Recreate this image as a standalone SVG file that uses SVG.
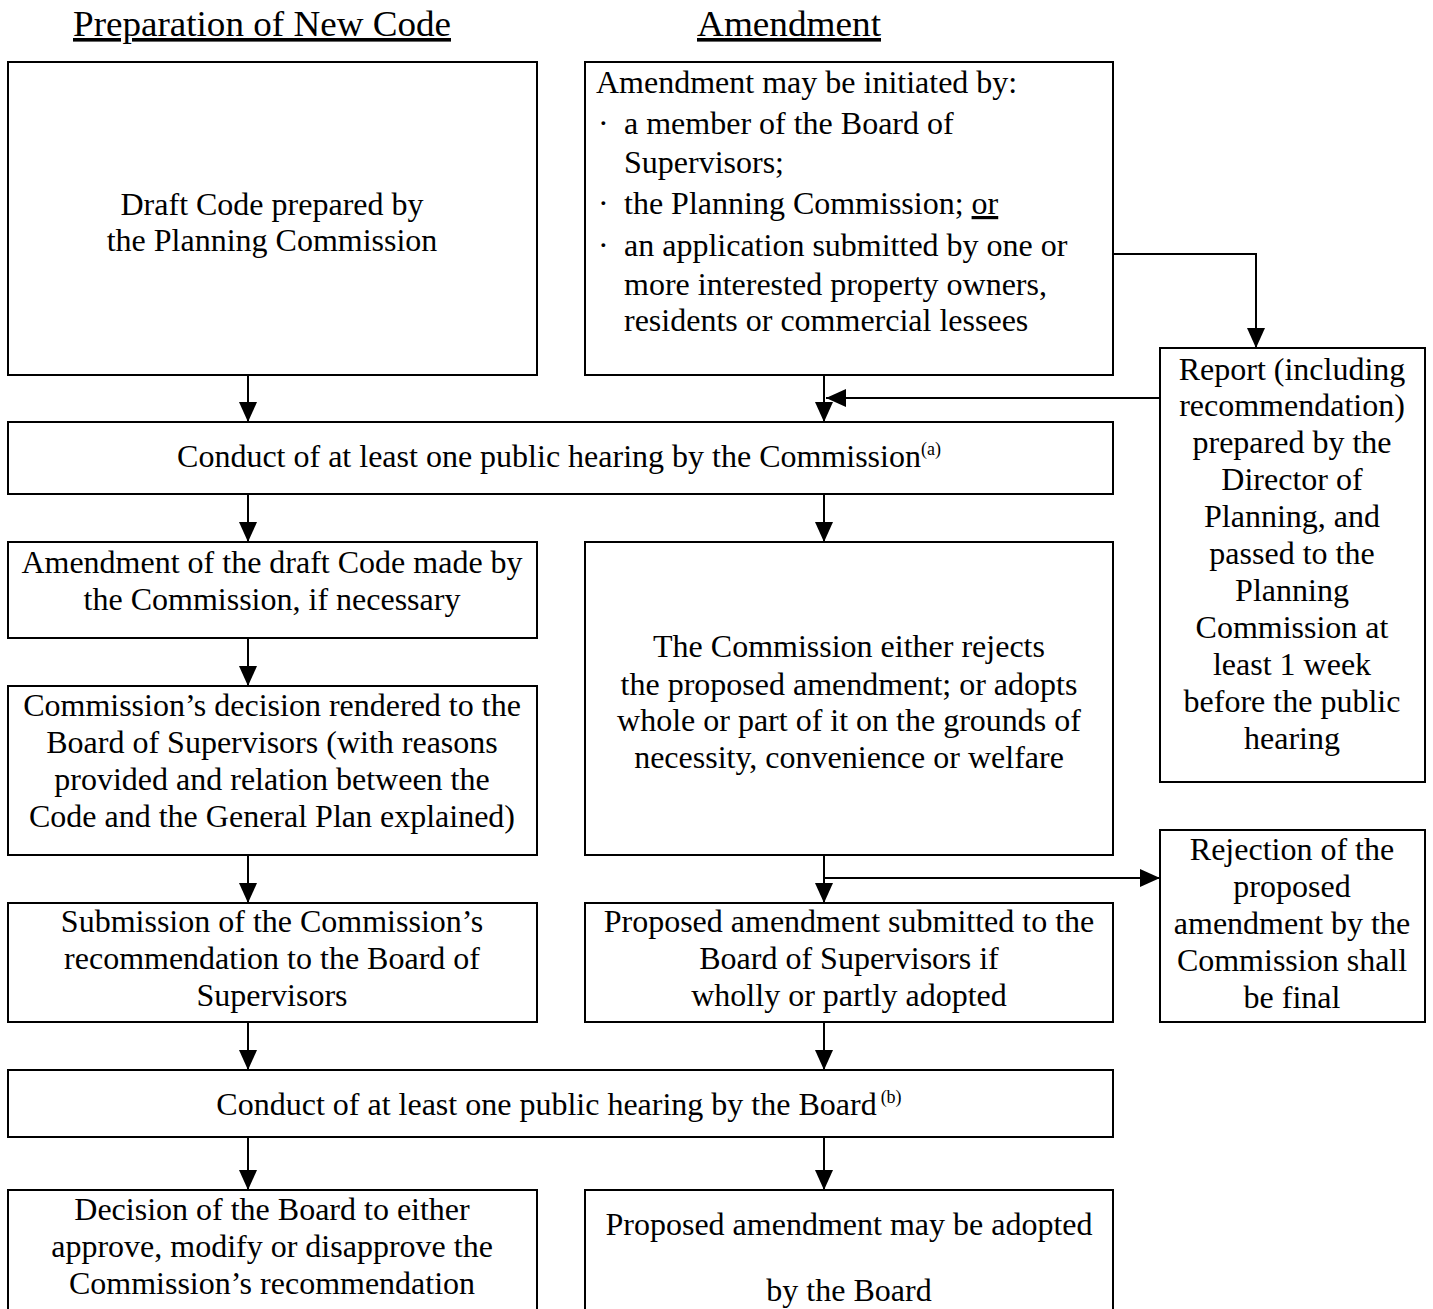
<svg xmlns="http://www.w3.org/2000/svg" width="1433" height="1309" viewBox="0 0 1433 1309">
<style>
.box{fill:#fff;stroke:#000;stroke-width:2}
text{font-family:"Liberation Serif","Times New Roman",serif;font-size:32px;fill:#000}
.c{text-anchor:middle}
.h{font-size:36px;text-decoration:underline}
.sup{font-size:18px}
.ln{fill:none;stroke:#000;stroke-width:2}
</style>
<defs>
<marker id="ah" markerUnits="userSpaceOnUse" markerWidth="20" markerHeight="20" viewBox="0 0 20 20" refX="20" refY="10" orient="auto">
<path d="M0,1 L20,10 L0,19 Z" fill="#000"/>
</marker>
</defs>
<rect width="1433" height="1309" fill="#fff"/>
<g id="headings">
<text class="h" x="73" y="36" textLength="378" lengthAdjust="spacingAndGlyphs">Preparation of New Code</text>
<text class="h" x="697" y="36" textLength="184" lengthAdjust="spacingAndGlyphs">Amendment</text>
</g>
<g id="connectors">
<line class="ln" x1="248" y1="375" x2="248" y2="422" marker-end="url(#ah)"/>
<line class="ln" x1="248" y1="494" x2="248" y2="542" marker-end="url(#ah)"/>
<line class="ln" x1="248" y1="638" x2="248" y2="686" marker-end="url(#ah)"/>
<line class="ln" x1="248" y1="855" x2="248" y2="903" marker-end="url(#ah)"/>
<line class="ln" x1="248" y1="1022" x2="248" y2="1070" marker-end="url(#ah)"/>
<line class="ln" x1="248" y1="1137" x2="248" y2="1190" marker-end="url(#ah)"/>
<line class="ln" x1="824" y1="375" x2="824" y2="422" marker-end="url(#ah)"/>
<line class="ln" x1="824" y1="494" x2="824" y2="542" marker-end="url(#ah)"/>
<line class="ln" x1="824" y1="855" x2="824" y2="903" marker-end="url(#ah)"/>
<line class="ln" x1="824" y1="1022" x2="824" y2="1070" marker-end="url(#ah)"/>
<line class="ln" x1="824" y1="1137" x2="824" y2="1190" marker-end="url(#ah)"/>
<polyline class="ln" points="1113,254 1256,254 1256,348" marker-end="url(#ah)"/>
<line class="ln" x1="1160" y1="398" x2="826" y2="398" marker-end="url(#ah)"/>
<line class="ln" x1="824" y1="878" x2="1160" y2="878" marker-end="url(#ah)"/>
</g>
<g id="draft-code">
<rect class="box" x="8" y="62" width="529" height="313"/>
<text class="c" x="272" y="215">Draft Code prepared by</text>
<text class="c" x="272" y="251">the Planning Commission</text>
</g>
<g id="initiated">
<rect class="box" x="585" y="62" width="528" height="313"/>
<text x="596" y="93">Amendment may be initiated by:</text>
<text x="598" y="134">·</text><text x="624" y="134">a member of the Board of</text>
<text x="624" y="173">Supervisors;</text>
<text x="598" y="214">·</text><text x="624" y="214">the Planning Commission; <tspan text-decoration="underline">or</tspan></text>
<text x="598" y="256">·</text><text x="624" y="256">an application submitted by one or</text>
<text x="624" y="295">more interested property owners,</text>
<text x="624" y="331">residents or commercial lessees</text>
</g>
<g id="report">
<rect class="box" x="1160" y="348" width="265" height="434"/>
<text class="c" x="1292" y="380">Report (including</text>
<text class="c" x="1292" y="416">recommendation)</text>
<text class="c" x="1292" y="453">prepared by the</text>
<text class="c" x="1292" y="490">Director of</text>
<text class="c" x="1292" y="527">Planning, and</text>
<text class="c" x="1292" y="564">passed to the</text>
<text class="c" x="1292" y="601">Planning</text>
<text class="c" x="1292" y="638">Commission at</text>
<text class="c" x="1292" y="675">least 1 week</text>
<text class="c" x="1292" y="712">before the public</text>
<text class="c" x="1292" y="749">hearing</text>
</g>
<g id="commission-hearing">
<rect class="box" x="8" y="422" width="1105" height="72"/>
<text class="c" x="559" y="467">Conduct of at least one public hearing by the Commission<tspan class="sup" dy="-12">(a)</tspan></text>
</g>
<g id="amend-draft">
<rect class="box" x="8" y="542" width="529" height="96"/>
<text class="c" x="272" y="573">Amendment of the draft Code made by</text>
<text class="c" x="272" y="610">the Commission, if necessary</text>
</g>
<g id="commission-decision-amend">
<rect class="box" x="585" y="542" width="528" height="313"/>
<text class="c" x="849" y="657">The Commission either rejects</text>
<text class="c" x="849" y="695">the proposed amendment; or adopts</text>
<text class="c" x="849" y="731">whole or part of it on the grounds of</text>
<text class="c" x="849" y="768">necessity, convenience or welfare</text>
</g>
<g id="commission-decision-code">
<rect class="box" x="8" y="686" width="529" height="169"/>
<text class="c" x="272" y="716">Commission’s decision rendered to the</text>
<text class="c" x="272" y="753">Board of Supervisors (with reasons</text>
<text class="c" x="272" y="790">provided and relation between the</text>
<text class="c" x="272" y="827">Code and the General Plan explained)</text>
</g>
<g id="rejection">
<rect class="box" x="1160" y="830" width="265" height="192"/>
<text class="c" x="1292" y="860">Rejection of the</text>
<text class="c" x="1292" y="897">proposed</text>
<text class="c" x="1292" y="934">amendment by the</text>
<text class="c" x="1292" y="971">Commission shall</text>
<text class="c" x="1292" y="1008">be final</text>
</g>
<g id="submission">
<rect class="box" x="8" y="903" width="529" height="119"/>
<text class="c" x="272" y="932">Submission of the Commission’s</text>
<text class="c" x="272" y="969">recommendation to the Board of</text>
<text class="c" x="272" y="1006">Supervisors</text>
</g>
<g id="submitted">
<rect class="box" x="585" y="903" width="528" height="119"/>
<text class="c" x="849" y="932">Proposed amendment submitted to the</text>
<text class="c" x="849" y="969">Board of Supervisors if</text>
<text class="c" x="849" y="1006">wholly or partly adopted</text>
</g>
<g id="board-hearing">
<rect class="box" x="8" y="1070" width="1105" height="67"/>
<text class="c" x="559" y="1115">Conduct of at least one public hearing by the Board<tspan class="sup" dx="4" dy="-12">(b)</tspan></text>
</g>
<g id="board-decision">
<rect class="box" x="8" y="1190" width="529" height="140"/>
<text class="c" x="272" y="1220">Decision of the Board to either</text>
<text class="c" x="272" y="1257">approve, modify or disapprove the</text>
<text class="c" x="272" y="1294">Commission’s recommendation</text>
</g>
<g id="adopted">
<rect class="box" x="585" y="1190" width="528" height="140"/>
<text class="c" x="849" y="1235">Proposed amendment may be adopted</text>
<text class="c" x="849" y="1301">by the Board</text>
</g>
</svg>
